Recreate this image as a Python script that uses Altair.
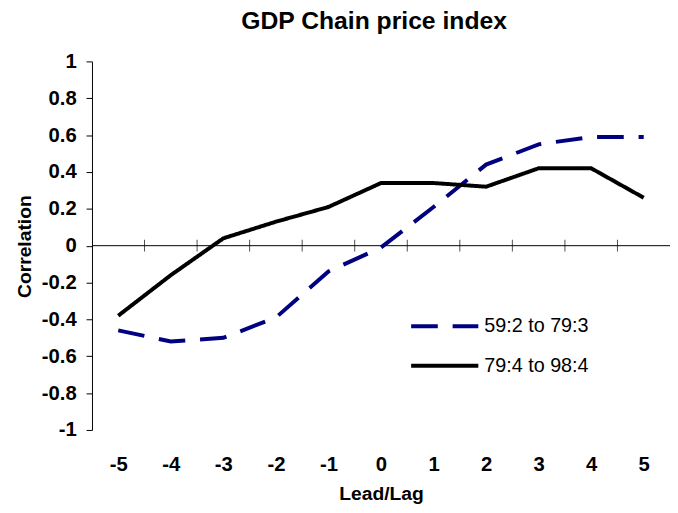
import altair as alt
import pandas as pd

# ---- data ----
lags = [-5, -4, -3, -2, -1, 0, 1, 2, 3, 4, 5]
series_names = ["59:2 to 79:3", "79:4 to 98:4"]
corr_59_79 = [-0.46, -0.52, -0.50, -0.39, -0.14, -0.01, 0.21, 0.44, 0.55, 0.59, 0.59]
corr_79_98 = [-0.38, -0.16, 0.04, 0.13, 0.21, 0.34, 0.34, 0.32, 0.42, 0.42, 0.26]
y_tick_values = [-1, -0.8, -0.6, -0.4, -0.2, 0, 0.2, 0.4, 0.6, 0.8, 1]

rows = []
for name, vals in zip(series_names, [corr_59_79, corr_79_98]):
    for lag, v in zip(lags, vals):
        rows.append({"lag": lag, "corr": v, "series": name})
df = pd.DataFrame(rows)

# category boundaries for the tick marks on the zero line
boundaries = [l + 0.5 for l in lags[:-1]]
ticks_df = pd.DataFrame({"lag": boundaries, "corr": [0] * len(boundaries)})
zero_df = pd.DataFrame({"corr": [0]})

FONT = "Liberation Sans"
W, H = 585, 373

x_scale = alt.Scale(domain=[lags[0] - 0.5, lags[-1] + 0.5], nice=False, zero=False)
y_scale = alt.Scale(domain=[-1, 1], nice=False)

x_enc = alt.X(
    "lag:Q",
    scale=x_scale,
    axis=alt.Axis(
        values=lags,
        labelExpr="'' + datum.value",
        domain=False,
        ticks=False,
        grid=False,
        labelFontSize=20.5,
        labelFontWeight="bold",
        labelPadding=25,
        title="Lead/Lag",
        titleFontSize=19.5,
        titleFontWeight="bold",
        titleBaseline="middle",
        titleY=64,
    ),
)
y_enc = alt.Y(
    "corr:Q",
    scale=y_scale,
    axis=alt.Axis(
        values=y_tick_values,
        labelExpr="'' + datum.value",
        grid=False,
        tickSize=6,
        labelFontSize=20.5,
        labelFontWeight="bold",
        labelPadding=10,
        title="Correlation",
        titleFontSize=19.5,
        titleFontWeight="bold",
        titleBaseline="middle",
        titleX=-68,
        titleY=187,
    ),
)

legend = alt.Legend(
    title=None,
    orient="none",
    legendX=321,
    legendY=253,
    symbolType="stroke",
    symbolSize=4624,
    symbolStrokeWidth=4,
    clipHeight=30,
    rowPadding=10,
    labelFontSize=20,
    labelFont=FONT,
    labelOffset=4,
    padding=0,
    labelColor="black",
)

zero_line = alt.Chart(zero_df).mark_rule(color="black", strokeWidth=1).encode(y=y_enc)

zero_ticks = alt.Chart(ticks_df).mark_tick(
    orient="vertical", size=12, thickness=1, color="black"
).encode(x=x_enc, y=y_enc)

lines = alt.Chart(df).mark_line(strokeWidth=4).encode(
    x=x_enc,
    y=y_enc,
    color=alt.Color(
        "series:N",
        scale=alt.Scale(domain=series_names, range=["#000080", "#000000"]),
        legend=legend,
    ),
    strokeDash=alt.StrokeDash(
        "series:N",
        scale=alt.Scale(domain=series_names, range=[[27, 15], [1, 0]]),
        legend=legend,
    ),
)

chart = (
    alt.layer(zero_line, zero_ticks, lines)
    .properties(
        width=W,
        height=H,
        title=alt.TitleParams(
            "GDP Chain price index",
            fontSize=25,
            font=FONT,
            fontWeight="bold",
            anchor="middle",
            frame="group",
            dx=-7,
            offset=18,
            color="black",
        ),
        autosize=alt.AutoSizeParams(type="none"),
        padding={"left": 85, "top": 51, "right": 0, "bottom": 80},
        background="white",
    )
    .configure_view(stroke=None)
    .configure_axis(
        domainColor="black",
        tickColor="black",
        labelColor="black",
        titleColor="black",
        labelFont=FONT,
        titleFont=FONT,
    )
)

chart.save("out.html", embed_options={"renderer": "svg", "actions": False})
